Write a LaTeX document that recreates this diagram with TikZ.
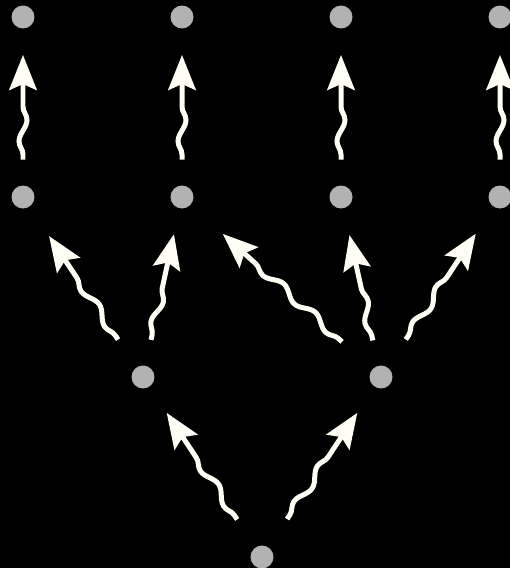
\documentclass[tikz,border=0pt]{standalone}
\usetikzlibrary{arrows.meta,calc,decorations.pathmorphing}
\begin{document}
\begin{tikzpicture}[x=0.02cm,y=-0.02cm,
 dot/.style={circle,fill=gray!60,minimum size=0.46cm,inner sep=0pt},
 w/.style={draw=white!96!yellow,line width=0.1cm,-{Stealth[length=0.7cm,width=0.55cm,inset=0.12cm]},
  decorate,decoration={snake,amplitude=0.08cm,segment length=0.85cm,pre length=0.1cm,post length=0.75cm}}]
\useasboundingbox[fill=black](0,0)rectangle(510,568);
\foreach \i/\x in {1/23,2/182,3/341,4/500}{\node[dot](t\i)at(\x,17){};\node[dot](m\i)at(\x,197){};}
\node[dot](l1)at(143,377){};\node[dot](l2)at(381,377){};
\node[dot](r)at(262,557){};
% wavy arrows: from/to/start gap/end gap
\foreach \a/\b/\s/\e in {m1/t1/0.75/0.76,m2/t2/0.75/0.76,m3/t3/0.75/0.76,m4/t4/0.75/0.76,
 l1/m1/0.9/0.94,l1/m2/0.76/0.76,l2/m2/1.05/1.1,l2/m3/0.75/0.78,l2/m4/0.9/0.88,
 r/l1/0.9/0.86,r/l2/0.91/0.86}
 \draw[w]($(\a)!\s cm!(\b)$)--($(\b)!\e cm!(\a)$);
\end{tikzpicture}
\end{document}
